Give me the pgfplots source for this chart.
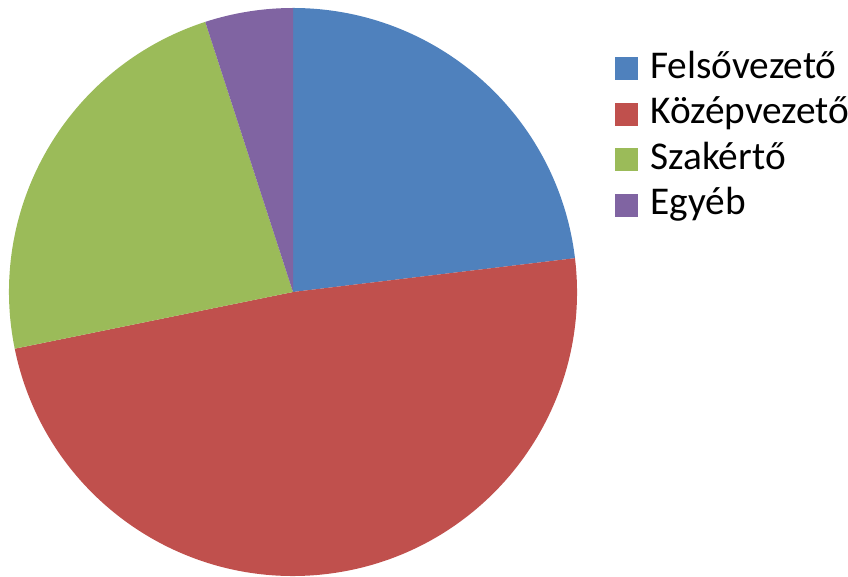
\documentclass[border=0pt]{standalone}
\usepackage{pgfplots}
\pgfplotsset{compat=1.18}
\usepackage{fontspec}
\setmainfont{Carlito}
\definecolor{cA}{HTML}{4F81BD}
\definecolor{cB}{HTML}{C0504D}
\definecolor{cC}{HTML}{9BBB59}
\definecolor{cD}{HTML}{8064A2}
% shares in percent
\def\vA{23.1}
\def\vB{48.7}
\def\vC{23.2}
\def\vD{5.0}
\pgfmathsetmacro\aA{90}
\pgfmathsetmacro\aB{\aA-3.6*\vA}
\pgfmathsetmacro\aC{\aB-3.6*\vB}
\pgfmathsetmacro\aD{\aC-3.6*\vC}
\pgfmathsetmacro\aE{\aD-3.6*\vD}
\begin{document}
\begin{tikzpicture}
\begin{axis}[
  width=636pt, height=432.75pt, scale only axis, hide axis,
  xmin=0, xmax=848, ymin=0, ymax=577, clip=false,
  legend style={at={(axis cs:615,528.3)}, anchor=north west, draw=none, fill=none,
    inner sep=0pt, font=\fontsize{29.5}{34}\selectfont, row sep=5.1pt, column sep=9.5pt,
    nodes={inner sep=0pt, text height=22pt, text depth=7pt}},
  legend cell align=left,
]
\addlegendimage{legend image code/.code={\fill[cA] (0pt,-8.5pt) rectangle (16.5pt,8pt);}}
\addlegendentry{Felsővezető}
\addlegendimage{legend image code/.code={\fill[cB] (0pt,-8.5pt) rectangle (16.5pt,8pt);}}
\addlegendentry{Középvezető}
\addlegendimage{legend image code/.code={\fill[cC] (0pt,-8.5pt) rectangle (16.5pt,8pt);}}
\addlegendentry{Szakértő}
\addlegendimage{legend image code/.code={\fill[cD] (0pt,-8.5pt) rectangle (16.5pt,8pt);}}
\addlegendentry{Egyéb}
\fill[cA] (axis cs:293,285) -- ++(\aA:213pt) arc[start angle=\aA, end angle=\aB, radius=213pt] -- cycle;
\fill[cB] (axis cs:293,285) -- ++(\aB:213pt) arc[start angle=\aB, end angle=\aC, radius=213pt] -- cycle;
\fill[cC] (axis cs:293,285) -- ++(\aC:213pt) arc[start angle=\aC, end angle=\aD, radius=213pt] -- cycle;
\fill[cD] (axis cs:293,285) -- ++(\aD:213pt) arc[start angle=\aD, end angle=\aE, radius=213pt] -- cycle;
\coordinate (bbBL) at (axis cs:0,0);
\coordinate (bbTR) at (axis cs:848,577);
\end{axis}
\pgfresetboundingbox
\path[use as bounding box] (bbBL) rectangle (bbTR);
\end{tikzpicture}
\end{document}
